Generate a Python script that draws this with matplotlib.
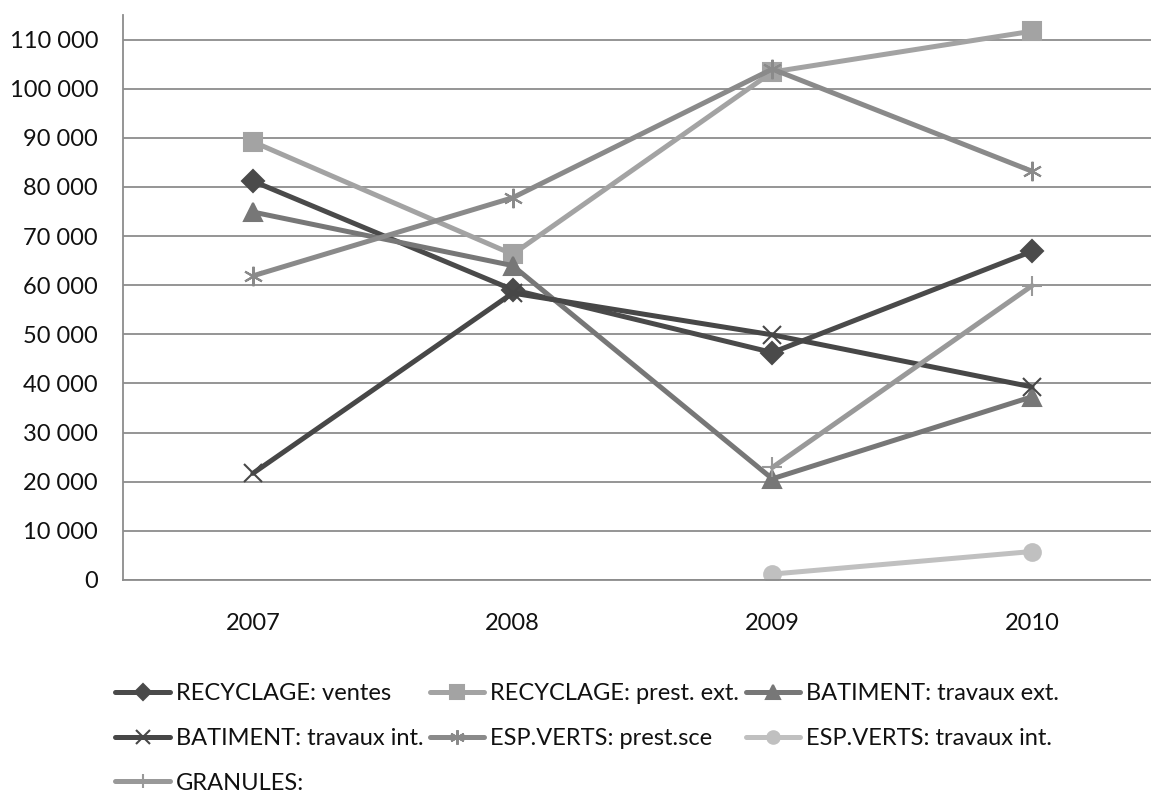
import matplotlib.pyplot as plt
from matplotlib.ticker import FuncFormatter

plt.rcParams['font.family'] = ['Lato', 'DejaVu Sans']

annees = ['2007', '2008', '2009', '2010']

recyclage_ventes = [81200, 59100, 46300, 66900]
recyclage_prest = [89200, 66300, 103400, 111700]
batiment_ext = [74900, 64000, 20600, 37300]
batiment_int = [21700, 58400, 49900, 39300]
espverts_prest = [61900, 77800, 104000, 83200]
espverts_trav = [None, None, 1200, 5800]
granules = [None, None, 22900, 59900]

series = [
    ("RECYCLAGE: ventes", recyclage_ventes, '#4a4a4a', 'D', 11),
    ("RECYCLAGE: prest. ext.", recyclage_prest, '#a3a3a3', 's', 13),
    ("BATIMENT: travaux ext.", batiment_ext, '#777777', '^', 13),
    ("BATIMENT: travaux int.", batiment_int, '#474747', 'x', 13),
    ("ESP.VERTS: prest.sce", espverts_prest, '#8a8a8a', (6, 2, 0), 14),
    ("ESP.VERTS: travaux int.", espverts_trav, '#c0c0c0', 'o', 12),
    ("GRANULES:", granules, '#999999', '+', 14),
]

fig = plt.figure(figsize=(11.51, 7.96), dpi=100)
ax = fig.add_axes([123/1151, 216/796, 1028/1151, 565/796])

x = list(range(len(annees)))
lignes = []
for nom, vals, couleur, mk, ms in series:
    xs = [i for i, v in zip(x, vals) if v is not None]
    ys = [v for v in vals if v is not None]
    l, = ax.plot(xs, ys, color=couleur, lw=3.6, marker=mk, ms=ms,
                 mew=1.5, mec=couleur, mfc=couleur, label=nom,
                 solid_capstyle='round')
    lignes.append(l)

ax.set_xlim(-0.5, 3.458)
ax.set_ylim(0, 115000)
ax.set_yticks(range(0, 110001, 10000))
ax.yaxis.set_major_formatter(FuncFormatter(lambda v, p: f"{int(v):,}".replace(",", " ")))
ax.set_xticks(x)
ax.set_xticklabels(annees)
ax.tick_params(axis='both', length=0, labelsize=17, labelcolor='#111111')
ax.tick_params(axis='y', pad=18)
ax.tick_params(axis='x', pad=24)
ax.grid(axis='y', color='#8c8c8c', lw=1.3)
ax.set_axisbelow(True)
for s in ['top', 'right']:
    ax.spines[s].set_visible(False)
for s in ['left', 'bottom']:
    ax.spines[s].set_color('#8c8c8c')
    ax.spines[s].set_linewidth(1.3)

# ordre ligne par ligne comme dans l'original (la légende remplit par colonnes)
ordre = [0, 3, 6, 1, 4, 2, 5]
leg = fig.legend([lignes[i] for i in ordre], [series[i][0] for i in ordre],
                 loc='upper left', bbox_to_anchor=(106/1151, 1 - 674/796),
                 ncol=3, frameon=False, fontsize=17, handlelength=2.3,
                 handletextpad=0.25, columnspacing=0.28, labelspacing=1.0,
                 borderaxespad=0, labelcolor='#111111', markerscale=0.75)

fig.savefig('out.png', dpi=100)
